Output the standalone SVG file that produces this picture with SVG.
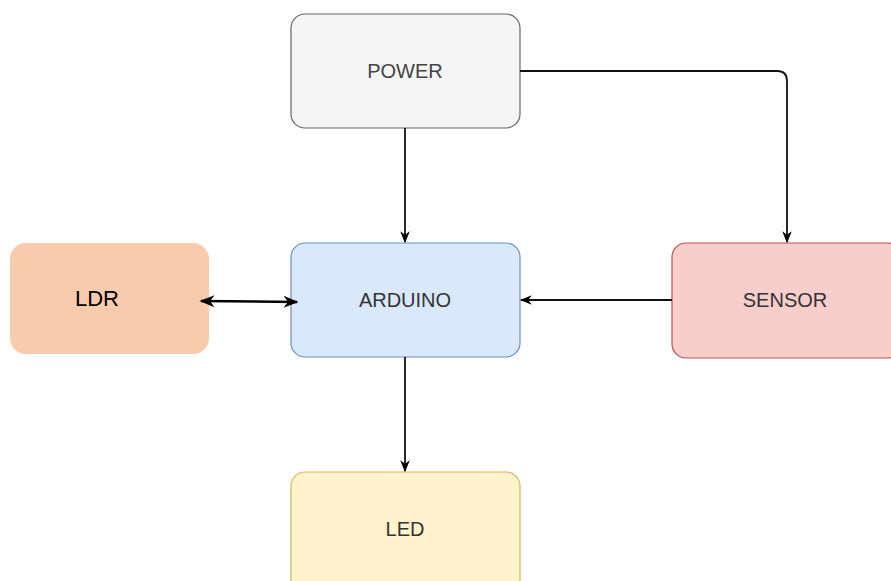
<svg xmlns="http://www.w3.org/2000/svg" width="891" height="581" viewBox="0 0 891 581">
<defs>
<marker id="arr" viewBox="0 0 10 10" refX="9" refY="5" markerWidth="12" markerHeight="12" orient="auto" markerUnits="userSpaceOnUse">
<path d="M0,1 L10,5 L0,9 L3,5 Z" fill="#000"/>
</marker>
<marker id="big" viewBox="0 0 10 10" refX="9" refY="5" markerWidth="15" markerHeight="15" orient="auto-start-reverse" markerUnits="userSpaceOnUse">
<path d="M0,1 L10,5 L0,9 L3,5 Z" fill="#000"/>
</marker>
<style>
.lbl{font-family:"Liberation Sans",Arial,sans-serif;font-size:20px;text-anchor:middle;dominant-baseline:central}
.edge{fill:none;stroke:#111;stroke-width:1.8}
</style>
</defs>
<rect width="891" height="581" fill="#fff"/>
<g id="power">
<rect x="291" y="14" width="229" height="114" rx="14" fill="#f5f5f5" stroke="#666" stroke-width="1.2"/>
<text class="lbl" x="405" y="71" fill="#444">POWER</text>
</g>
<g id="arduino">
<rect x="291" y="243" width="229" height="114" rx="14" fill="#dae8fc" stroke="#6c8ebf" stroke-width="1.2"/>
<text class="lbl" x="405" y="300" fill="#333">ARDUINO</text>
</g>
<g id="ldr">
<rect x="10" y="243" width="199" height="111" rx="16" fill="#f8cbad"/>
<text class="lbl" x="97" y="298" fill="#000" style="font-size:22px">LDR</text>
</g>
<g id="sensor">
<rect x="672" y="243" width="230" height="115" rx="14" fill="#f8cecc" stroke="#b85450" stroke-width="1.2"/>
<text class="lbl" x="785" y="300" fill="#333">SENSOR</text>
</g>
<g id="led">
<rect x="291" y="472" width="229" height="130" rx="14" fill="#fff2cc" stroke="#d6b656" stroke-width="1.2"/>
<text class="lbl" x="405" y="529" fill="#333">LED</text>
</g>
<g id="connectors">
<path class="edge" d="M405,128 L405,242" marker-end="url(#arr)"/>
<path class="edge" d="M520,71 L777,71 Q787,71 787,81 L787,242" marker-end="url(#arr)"/>
<path class="edge" d="M672,300 L521,300" marker-end="url(#arr)"/>
<path class="edge" d="M405,357 L405,471" marker-end="url(#arr)"/>
<path d="M201,301 L297,302" fill="none" stroke="#000" stroke-width="2.5" marker-start="url(#big)" marker-end="url(#big)"/>
</g>
</svg>
